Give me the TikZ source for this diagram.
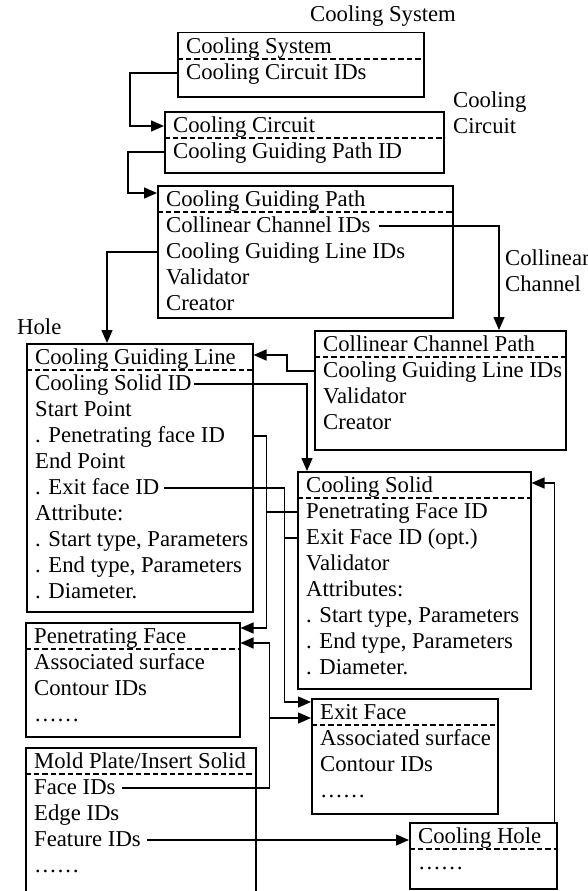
\documentclass[tikz,border=0pt]{standalone}
\usepackage{fontspec}
\setmainfont{Liberation Serif}
\usepackage{tikz}
\usetikzlibrary{shapes, arrows.meta, positioning, calc}

\begin{document}
\begin{tikzpicture}[x=1pt, y=-1pt,
    box/.style={draw, rectangle, line width=1.5pt, anchor=north west, inner sep=0},
    row/.style={anchor=west, inner sep=0, text height=16pt, text depth=4pt, font=\fontsize{22.7}{26}\selectfont},
    lbl/.style={anchor=base west, inner sep=0, align=left, font=\fontsize{22.7}{26}\selectfont},
    divider/.style={dash pattern=on 5.5pt off 3pt, line width=1.2pt},
    wire/.style={line width=1.4pt},
    link/.style={wire, -{Triangle[length=13pt, width=11pt]}}]

\useasboundingbox (0,0) rectangle (588,891);
\clip (0,0) rectangle (588,891);

% class boxes
\node[box, minimum width=246, minimum height=64] (csys) at (177,32) {};
\node[box, minimum width=279, minimum height=61] (ccir) at (164,111) {};
\node[box, minimum width=295, minimum height=132] (cgp) at (157,185) {};
\node[box, minimum width=251, minimum height=119] (cpp) at (314,330) {};
\node[box, minimum width=226, minimum height=268] (cgl) at (26,343) {};
\node[box, minimum width=233, minimum height=217] (cs) at (297,471) {};
\node[box, minimum width=214, minimum height=114] (pf) at (25,622) {};
\node[box, minimum width=186, minimum height=115] (ef) at (311,698) {};
\node[box, minimum width=230, minimum height=160] (mp) at (25,747) {};
\node[box, minimum width=147, minimum height=66] (ch) at (409,822) {};

% entries of each box
\foreach \entry [count=\i] in {Cooling System, Cooling Circuit IDs}
  \node[row] (csys-\i) at ($(csys.north west)+(9,{26*\i-11})$) {\entry};
\foreach \entry [count=\i] in {Cooling Circuit, Cooling Guiding Path ID}
  \node[row] (ccir-\i) at ($(ccir.north west)+(9,{26*\i-11})$) {\entry};
\foreach \entry [count=\i] in {Cooling Guiding Path, Collinear Channel IDs, Cooling Guiding Line IDs, Validator, Creator}
  \node[row] (cgp-\i) at ($(cgp.north west)+(9,{26*\i-11})$) {\entry};
\foreach \entry [count=\i] in {Collinear Channel Path, Cooling Guiding Line IDs, Validator, Creator}
  \node[row] (cpp-\i) at ($(cpp.north west)+(9,{26*\i-11})$) {\entry};
\foreach \entry [count=\i] in {Cooling Guiding Line, Cooling Solid ID, Start Point, . Penetrating face ID, End Point, . Exit face ID, Attribute:, {. Start type, Parameters}, {. End type, Parameters}, . Diameter.}
  \node[row] (cgl-\i) at ($(cgl.north west)+(9,{26*\i-11})$) {\entry};
\foreach \entry [count=\i] in {Cooling Solid, Penetrating Face ID, Exit Face ID (opt.), Validator, Attributes:, {. Start type, Parameters}, {. End type, Parameters}, . Diameter.}
  \node[row] (cs-\i) at ($(cs.north west)+(9,{26*\i-11})$) {\entry};
\foreach \entry [count=\i] in {Penetrating Face, Associated surface, Contour IDs, ……}
  \node[row] (pf-\i) at ($(pf.north west)+(9,{26*\i-11})$) {\entry};
\foreach \entry [count=\i] in {Exit Face, Associated surface, Contour IDs, ……}
  \node[row] (ef-\i) at ($(ef.north west)+(9,{26*\i-11})$) {\entry};
\foreach \entry [count=\i] in {Mold Plate/Insert Solid, Face IDs, Edge IDs, Feature IDs, ……}
  \node[row] (mp-\i) at ($(mp.north west)+(9,{26*\i-11})$) {\entry};
\foreach \entry [count=\i] in {Cooling Hole, ……}
  \node[row] (ch-\i) at ($(ch.north west)+(9,{26*\i-11})$) {\entry};

% dashed line under each title
\foreach \b in {csys, ccir, cgp, cpp, cgl, cs, pf, ef, mp, ch}
  \draw[divider] ($(\b.north west)+(0,27)$) -- ($(\b.north east)+(0,27)$);

% labels beside the boxes
\node[row] (lsys) at (310,16) {Cooling System};
\node[lbl] (lcir) at (453,133) {Cooling\\Circuit};
\node[lbl] (lcol) at (505,291) {Collinear\\Channel};
\node[row] (lhole) at (17,328) {Hole};

% references between the classes
\draw[link] (csys.west |- csys-2) -- ++(-47,0) |- (ccir.west |- ccir-1);
\draw[link] (ccir.west |- ccir-2) -- ++(-36,0) |- ($(cgp.west |- cgp-1)+(0,-7)$);
\draw[link] ($(cgp-2.east)+(8,0)$) -| ($(cpp.north west)+(185,0)$);
\draw[link] (cgp.west |- cgp-3) -| ($(cgl.north west)+(81,0)$);
\draw[link] (cpp.west |- cpp-2) -- ++(-27,0) |- ($(cgl.east |- cgl-1)+(0,-3)$);
\draw[link] ($(cgl-2.east)+(2,0)$) -| ($(cs.north west)+(10,0)$);

\coordinate (pfbus) at ($(cgl.north east)+(13,0)$);
\coordinate (fbus) at ($(cgl.north east)+(16,0)$);
\coordinate (efbus) at ($(cgl.north east)+(31,0)$);

% penetrating face
\draw[link] (cgl.east |- cgl-4) -- (pfbus |- cgl-4) |- ($(pf.east |- pf-1)+(0,-9)$);
\draw[wire] (cs.west |- cs-2) -- (pfbus |- cs-2);
% exit face
\draw[link] ($(cgl-6.east)+(4,0)$) -- (efbus |- cgl-6) |- ($(ef.west |- ef-1)+(0,-11)$);
\draw[wire] (cs.west |- cs-3) -- (efbus |- cs-3);
% faces of the mold plate
\draw[link] ($(mp-2.east)+(6,0)$) -- (fbus |- mp-2) |- ($(pf.east |- pf-1)+(0,6)$);
\draw[link] ($(fbus |- ef-1)+(0,5)$) -- ($(ef.west |- ef-1)+(0,5)$);
% features and cooling hole
\draw[link] ($(mp-4.east)+(6,0)$) -- (ch.west |- mp-4);
\draw[link] ($(ch.north east)+(-3,0)$) |- ($(cs.east |- cs-1)+(0,-3)$);

\end{tikzpicture}
\end{document}
